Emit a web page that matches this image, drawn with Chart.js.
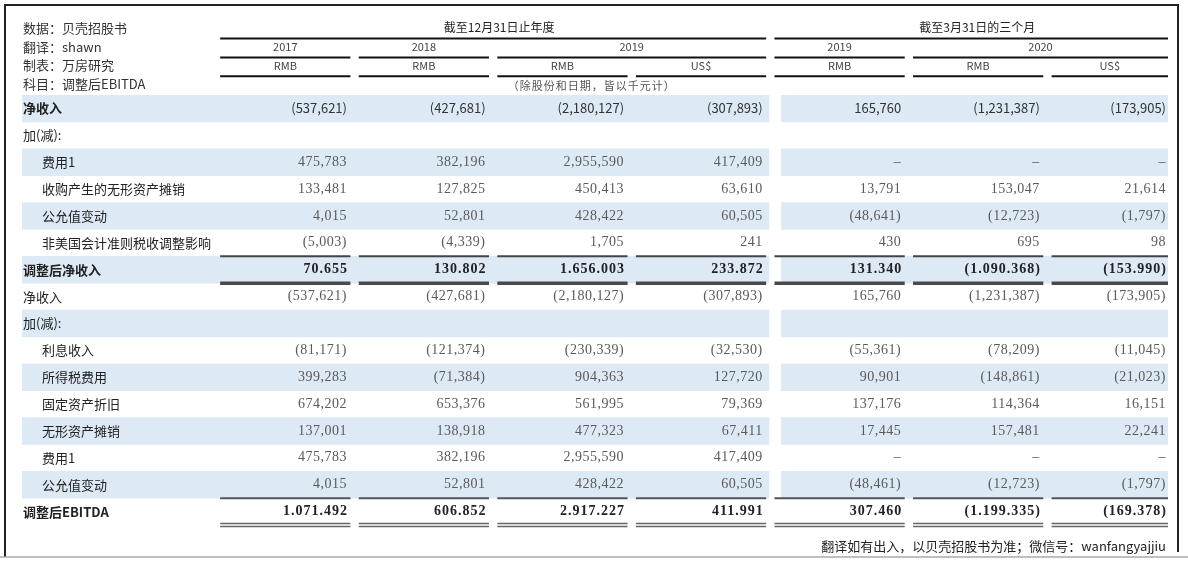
<!DOCTYPE html>
<html>
<head>
<meta charset="utf-8">
<title>贝壳 调整后EBITDA</title>
<script src="https://cdn.jsdelivr.net/npm/chart.js@4/dist/chart.umd.min.js"></script>
<style>
  html, body { margin: 0; padding: 0; background: #fff; }
  canvas { display: block; }
</style>
</head>
<body>
<canvas id="table" width="1188" height="561"></canvas>
<script>
// top-left notes
const notes = ['数据：贝壳招股书', '翻译：shawn', '制表：万房研究', '科目：调整后EBITDA'];

// column headers
const periods = ['截至12月31日止年度', '截至3月31日的三个月'];
const periodSpans = [[0, 3], [4, 6]];
const years = ['2017', '2018', '2019', '2019', '2020'];
const yearSpans = [[0, 0], [1, 1], [2, 3], [4, 4], [5, 6]];
const currencies = ['RMB', 'RMB', 'RMB', 'US$', 'RMB', 'RMB', 'US$'];
const unitNote = '（除股份和日期，皆以千元计）';
const footer = '翻译如有出入，以贝壳招股书为准；微信号：wanfangyajjiu';

// rows
const rowLabels = [
  '净收入', '加(减):', '费用1', '收购产生的无形资产摊销', '公允值变动', '非美国会计准则税收调整影响',
  '调整后净收入', '净收入', '加(减):', '利息收入', '所得税费用', '固定资产折旧', '无形资产摊销',
  '费用1', '公允值变动', '调整后EBITDA'
];
const indentRows = [2, 3, 4, 5, 9, 10, 11, 12, 13, 14];
const boldRows = [6, 15];

// values in thousands; null = empty cell, 0 = dash
const fy2017Rmb = [-537621, null, 475783, 133481, 4015, -5003, 70655, -537621, null, -81171, 399283, 674202, 137001, 475783, 4015, 1071492];
const fy2018Rmb = [-427681, null, 382196, 127825, 52801, -4339, 130802, -427681, null, -121374, -71384, 653376, 138918, 382196, 52801, 606852];
const fy2019Rmb = [-2180127, null, 2955590, 450413, 428422, 1705, 1656003, -2180127, null, -230339, 904363, 561995, 477323, 2955590, 428422, 2917227];
const fy2019Usd = [-307893, null, 417409, 63610, 60505, 241, 233872, -307893, null, -32530, 127720, 79369, 67411, 417409, 60505, 411991];
const q12019Rmb = [165760, null, 0, 13791, -48641, 430, 131340, 165760, null, -55361, 90901, 137176, 17445, 0, -48461, 307460];
const q12020Rmb = [-1231387, null, 0, 153047, -12723, 695, -1090368, -1231387, null, -78209, -148861, 114364, 157481, 0, -12723, -1199335];
const q12020Usd = [-173905, null, 0, 21614, -1797, 98, -153990, -173905, null, -11045, -21023, 16151, 22241, 0, -1797, -169378];
const columns = [fy2017Rmb, fy2018Rmb, fy2019Rmb, fy2019Usd, q12019Rmb, q12020Rmb, q12020Usd];

const SANS = '"Noto Sans CJK SC", "Noto Sans", sans-serif';
const SERIF = '"Liberation Serif", "DejaVu Serif", "Noto Sans CJK SC", serif';
const BAND = '#dde9f5';

// x scale: label column to the left of 0, one unit per data column
const X_MIN = -1.9, X_MAX = 6.37, GAP_L = 3.49, GAP_R = 3.58;

function fmt(v, sep) {
  if (v === null) return '';
  if (v === 0) return '–';
  const s = Math.abs(v).toString().replace(/\B(?=(\d{3})+(?!\d))/g, sep);
  return v < 0 ? '(' + s + ')' : s;
}

const tablePlugin = {
  id: 'tableText',
  beforeDraw(chart) {
    const { ctx, width, height } = chart;
    ctx.save();
    ctx.fillStyle = '#fff';
    ctx.fillRect(0, 0, width, height);
    ctx.strokeStyle = '#222';
    ctx.lineWidth = 2;
    ctx.beginPath();
    ctx.moveTo(5, height - 4);
    ctx.lineTo(5, 5);
    ctx.lineTo(width - 10, 5);
    ctx.lineTo(width - 10, height - 9);
    ctx.stroke();
    ctx.strokeStyle = '#aaa';
    ctx.lineWidth = 1.5;
    ctx.beginPath();
    ctx.moveTo(0, height - 4);
    ctx.lineTo(width, height - 4);
    ctx.stroke();
    ctx.restore();
  },
  afterDatasetsDraw(chart) {
    const { ctx, chartArea, scales: { x, y } } = chart;
    const colL = i => x.getPixelForValue(i - 0.47);
    const colR = i => Math.min(x.getPixelForValue(i + 0.47), chartArea.right);
    const colC = i => (colL(i) + colR(i)) / 2;
    const textR = i => Math.min(x.getPixelForValue(i + 0.445), chartArea.right - 2);
    const left = chartArea.left;

    function text(str, px, py, font, color, align) {
      ctx.font = font;
      ctx.fillStyle = color;
      ctx.textAlign = align;
      ctx.textBaseline = 'middle';
      ctx.fillText(str, px, py);
    }
    function rule(x0, x1, py, w, color) {
      ctx.strokeStyle = color;
      ctx.lineWidth = w;
      ctx.beginPath();
      ctx.moveTo(x0, py);
      ctx.lineTo(x1, py);
      ctx.stroke();
    }

    ctx.save();
    // notes
    const headRows = [-3.0, -2.3, -1.6, -0.9];
    notes.forEach((n, k) => text(n, left + 1, y.getPixelForValue(headRows[k]), '13px ' + SANS, '#333', 'left'));

    // period / year / currency headers
    periods.forEach((p, k) => {
      const [a, b] = periodSpans[k];
      text(p, (colL(a) + colR(b)) / 2 + 6, y.getPixelForValue(-3.0), '12px ' + SANS, '#222', 'center');
      rule(colL(a), colR(b), y.getPixelForValue(-2.6), 2, '#111');
    });
    years.forEach((t, k) => {
      const [a, b] = yearSpans[k];
      text(t, (colL(a) + colR(b)) / 2, y.getPixelForValue(-2.3), '11px ' + SANS, '#444', 'center');
      rule(colL(a), colR(b), y.getPixelForValue(-1.9), 2, '#111');
    });
    currencies.forEach((c, i) => {
      text(c, colC(i), y.getPixelForValue(-1.6), '11px ' + SANS, '#444', 'center');
      rule(colL(i), colR(i), y.getPixelForValue(-1.2), 2, '#111');
    });
    ctx.letterSpacing = '1px';
    text(unitNote, (colL(2) + colR(3)) / 2 - 40, y.getPixelForValue(-0.8), '11px ' + SERIF, '#555', 'center');
    ctx.letterSpacing = '0px';

    // row labels and cells
    rowLabels.forEach((lab, r) => {
      const py = y.getPixelForValue(r);
      const bold = boldRows.includes(r) || r === 0;
      const lx = indentRows.includes(r) ? left + 20 : left + 1;
      text(lab, lx, py, (bold ? 'bold ' : '') + '13px ' + SANS, '#222', 'left');
      columns.forEach((col, i) => {
        const v = col[r];
        if (r === 0) {
          text(fmt(v, ','), textR(i), py, '13px ' + SANS, '#333', 'right');
        } else if (boldRows.includes(r)) {
          ctx.letterSpacing = '1px';
          text(fmt(v, '.'), textR(i) + 1, py, 'bold 14px ' + SERIF, '#222', 'right');
          ctx.letterSpacing = '0px';
        } else {
          ctx.letterSpacing = '0.5px';
          text(fmt(v, ','), textR(i), py, '14px ' + SERIF, '#5a5a5a', 'right');
          ctx.letterSpacing = '0px';
        }
      });
    });

    // rules under subtotal rows
    columns.forEach((col, i) => {
      rule(colL(i), colR(i), y.getPixelForValue(5.5), 2, '#444');
      rule(colL(i), colR(i), y.getPixelForValue(6.5), 3.5, '#4a4a4a');
      rule(colL(i), colR(i), y.getPixelForValue(14.5), 2, '#555');
      rule(colL(i), colR(i), y.getPixelForValue(15.5) - 1.5, 1.5, '#666');
      rule(colL(i), colR(i), y.getPixelForValue(15.5) + 1.5, 1.5, '#666');
    });

    // footer
    text(footer, chartArea.right - 2, y.getPixelForValue(16.29), '13px ' + SANS, '#222', 'right');
    ctx.restore();
  }
};

const shaded = rowLabels.map((_, r) => r % 2 === 0);

new Chart(document.getElementById('table'), {
  type: 'bar',
  data: {
    labels: rowLabels,
    datasets: [
      { label: 'bandLeft', data: shaded.map(s => s ? [X_MIN, GAP_L] : null) },
      { label: 'bandRight', data: shaded.map(s => s ? [GAP_R, X_MAX] : null) }
    ].map(d => Object.assign(d, {
      backgroundColor: BAND, borderWidth: 0, grouped: false,
      barPercentage: 1, categoryPercentage: 1
    }))
  },
  options: {
    indexAxis: 'y',
    responsive: false,
    animation: false,
    events: [],
    layout: { padding: { top: 95, bottom: 36, left: 22, right: 20 } },
    plugins: { legend: { display: false }, tooltip: { enabled: false } },
    scales: {
      x: { type: 'linear', min: X_MIN, max: X_MAX, display: false },
      y: { type: 'category', offset: true, display: false }
    }
  },
  plugins: [tablePlugin]
});
</script>
</body>
</html>
